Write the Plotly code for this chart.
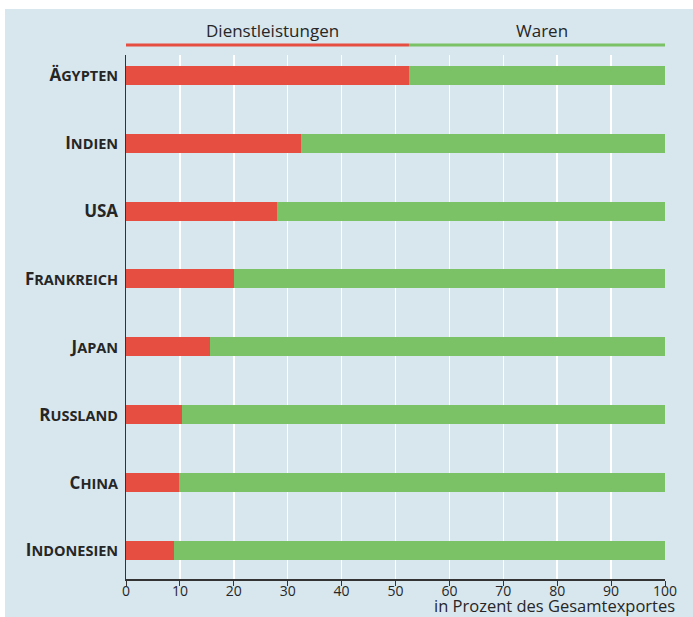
import plotly.graph_objects as go

# ---- data ----
laender = ["Ägypten", "Indien", "USA", "Frankreich", "Japan", "Russland", "China", "Indonesien"]
dienstleistungen = [52.5, 32.5, 28.0, 20.0, 15.6, 10.3, 9.8, 8.9]
waren = [47.5, 67.5, 72.0, 80.0, 84.4, 89.7, 90.2, 91.1]
x_ticks = [0, 10, 20, 30, 40, 50, 60, 70, 80, 90, 100]
serien_namen = ["Dienstleistungen", "Waren"]
x_titel = "in Prozent des Gesamtexportes"

# ---- style ----
W, H = 693, 617
L, R, T, B = 126, 28, 55, 38
BG = "#d8e7ee"
RED = "#e54e40"
GREEN = "#7bc266"
TXT = "#262626"
FONT = "Open Sans"


def px_x(p):
    return (p - L) / (W - L - R)


def px_y(p):
    return (H - B - p) / (H - T - B)


def small_caps(name):
    if name.isupper():
        return "<b>" + name + "</b>"
    return "<b>" + name[0] + "<span style='font-size:14.5px'>" + name[1:].upper() + "</span></b>"


fig = go.Figure()
fig.add_trace(go.Bar(y=laender, x=dienstleistungen, orientation="h", name=serien_namen[0],
                     marker=dict(color=RED, line=dict(width=0)), width=0.28, hoverinfo="skip"))
fig.add_trace(go.Bar(y=laender, x=waren, orientation="h", name=serien_namen[1],
                     marker=dict(color=GREEN, line=dict(width=0)), width=0.28, hoverinfo="skip"))

shapes = [
    # blue panel
    dict(type="rect", xref="paper", yref="paper", x0=px_x(5), x1=px_x(W + 5),
         y0=px_y(H + 5), y1=px_y(9), fillcolor=BG, line=dict(width=0), layer="below"),
    # legend lines
    dict(type="line", xref="x", yref="paper", x0=0, x1=dienstleistungen[0],
         y0=px_y(45), y1=px_y(45), line=dict(color=RED, width=3)),
    dict(type="line", xref="x", yref="paper", x0=dienstleistungen[0], x1=100,
         y0=px_y(45), y1=px_y(45), line=dict(color=GREEN, width=3)),
]

annotations = [
    dict(text=serien_namen[0], xref="x", yref="paper", x=dienstleistungen[0] / 2 + 1, y=px_y(30),
         showarrow=False, font=dict(family=FONT, size=17, color=TXT), xanchor="center", yanchor="middle"),
    dict(text=serien_namen[1], xref="x", yref="paper", x=(dienstleistungen[0] + 100) / 2 + 1, y=px_y(30),
         showarrow=False, font=dict(family=FONT, size=17, color=TXT), xanchor="center", yanchor="middle"),
    dict(text=x_titel, xref="paper", yref="paper", x=px_x(677), y=px_y(605),
         showarrow=False, font=dict(family=FONT, size=16.5, color=TXT), xanchor="right", yanchor="middle"),
]

fig.update_layout(
    width=W, height=H,
    margin=dict(l=L, r=R, t=T, b=B),
    paper_bgcolor="white", plot_bgcolor=BG,
    barmode="stack", showlegend=False,
    shapes=shapes, annotations=annotations,
    font=dict(family=FONT, color=TXT),
    hovermode=False,
)
fig.update_xaxes(range=[0, 100], tickvals=x_ticks, showgrid=True, gridcolor="white", gridwidth=1.5,
                 zeroline=False, showline=True, linecolor="#333333", linewidth=1.5,
                 ticks="outside", ticklen=5, tickcolor="#333333", tickwidth=1,
                 ticklabelstandoff=-6,
                 tickfont=dict(family=FONT, size=14, color=TXT))
fig.update_yaxes(range=[7.42, -0.30], tickvals=laender, ticktext=[small_caps(n) for n in laender],
                 showgrid=False, zeroline=False, showline=True, linecolor="#333333", linewidth=1.5,
                 ticks="", ticklabelstandoff=3,
                 tickfont=dict(family=FONT, size=17, color=TXT))

fig.write_html("out.html", config={"displayModeBar": False, "staticPlot": True},
               post_script="document.body.style.margin='0px';document.body.style.overflow='hidden';")
